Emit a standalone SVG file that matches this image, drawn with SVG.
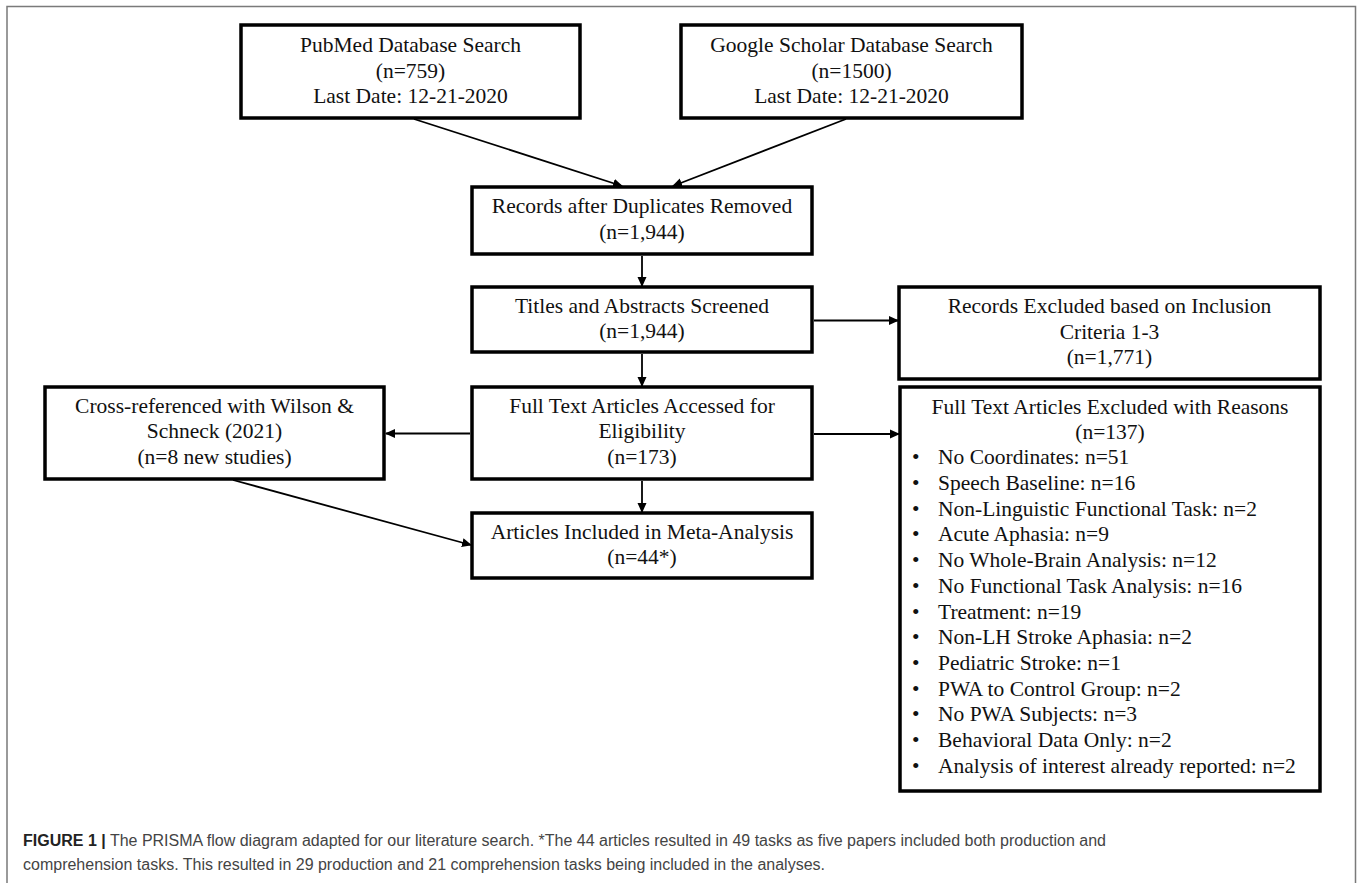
<svg xmlns="http://www.w3.org/2000/svg" width="1358" height="883" viewBox="0 0 1358 883">
<style>
.box{fill:#fff;stroke:#000;stroke-width:3.5}
.t{font-family:"Liberation Serif","Times New Roman",serif;font-size:21.5px;fill:#111}
.c{text-anchor:middle}
.ln{stroke:#000;stroke-width:1.8;fill:none}
.cap{font-family:"Liberation Sans",Arial,sans-serif;font-size:16px;fill:#444}
.capb{font-weight:bold;fill:#222}
</style>
<defs>
<marker id="ah" markerWidth="10" markerHeight="10" refX="9" refY="5" orient="auto" markerUnits="userSpaceOnUse">
<path d="M0,0.5 L10,5 L0,9.5 Z" fill="#000"/>
</marker>
</defs>
<rect width="1358" height="883" fill="#fff"/>
<path d="M7,883 V6.5 H1355.5 V883" fill="none" stroke="#7a7a7a" stroke-width="1.5"/>

<g id="pubmed">
<rect class="box" x="241" y="25" width="339" height="93"/>
<text class="t c" x="410.5" y="52">PubMed Database Search</text>
<text class="t c" x="410.5" y="78">(n=759)</text>
<text class="t c" x="410.5" y="103">Last Date: 12-21-2020</text>
</g>
<g id="google">
<rect class="box" x="681" y="25" width="341" height="93"/>
<text class="t c" x="851.5" y="52">Google Scholar Database Search</text>
<text class="t c" x="851.5" y="78">(n=1500)</text>
<text class="t c" x="851.5" y="103">Last Date: 12-21-2020</text>
</g>
<g id="duplicates">
<rect class="box" x="472" y="187" width="340" height="67"/>
<text class="t c" x="642" y="213">Records after Duplicates Removed</text>
<text class="t c" x="642" y="239">(n=1,944)</text>
</g>
<g id="screened">
<rect class="box" x="472" y="287" width="340" height="65"/>
<text class="t c" x="642" y="313">Titles and Abstracts Screened</text>
<text class="t c" x="642" y="338">(n=1,944)</text>
</g>
<g id="fulltext">
<rect class="box" x="472" y="387" width="340" height="92"/>
<text class="t c" x="642" y="413">Full Text Articles Accessed for</text>
<text class="t c" x="642" y="438">Eligibility</text>
<text class="t c" x="642" y="464">(n=173)</text>
</g>
<g id="included">
<rect class="box" x="472" y="513" width="340" height="65"/>
<text class="t c" x="642" y="539">Articles Included in Meta-Analysis</text>
<text class="t c" x="642" y="564">(n=44*)</text>
</g>
<g id="crossref">
<rect class="box" x="45" y="387" width="339" height="92"/>
<text class="t c" x="214.5" y="413">Cross-referenced with Wilson &amp;</text>
<text class="t c" x="214.5" y="438">Schneck (2021)</text>
<text class="t c" x="214.5" y="464">(n=8 new studies)</text>
</g>
<g id="excluded1">
<rect class="box" x="899" y="287" width="421" height="92"/>
<text class="t c" x="1109.5" y="313">Records Excluded based on Inclusion</text>
<text class="t c" x="1109.5" y="339">Criteria 1-3</text>
<text class="t c" x="1109.5" y="364">(n=1,771)</text>
</g>
<g id="excluded2">
<rect class="box" x="900" y="387" width="420" height="404"/>
<text class="t c" x="1110" y="414">Full Text Articles Excluded with Reasons</text>
<text class="t c" x="1110" y="439">(n=137)</text>
<g class="t">
<text x="912" y="464.3">•</text><text x="938" y="464.3">No Coordinates: n=51</text>
<text x="912" y="490">•</text><text x="938" y="490">Speech Baseline: n=16</text>
<text x="912" y="515.7">•</text><text x="938" y="515.7">Non-Linguistic Functional Task: n=2</text>
<text x="912" y="541.4">•</text><text x="938" y="541.4">Acute Aphasia: n=9</text>
<text x="912" y="567.1">•</text><text x="938" y="567.1">No Whole-Brain Analysis: n=12</text>
<text x="912" y="592.8">•</text><text x="938" y="592.8">No Functional Task Analysis: n=16</text>
<text x="912" y="618.5">•</text><text x="938" y="618.5">Treatment: n=19</text>
<text x="912" y="644.2">•</text><text x="938" y="644.2">Non-LH Stroke Aphasia: n=2</text>
<text x="912" y="669.9">•</text><text x="938" y="669.9">Pediatric Stroke: n=1</text>
<text x="912" y="695.6">•</text><text x="938" y="695.6">PWA to Control Group: n=2</text>
<text x="912" y="721.3">•</text><text x="938" y="721.3">No PWA Subjects: n=3</text>
<text x="912" y="747">•</text><text x="938" y="747">Behavioral Data Only: n=2</text>
<text x="912" y="772.7">•</text><text x="938" y="772.7">Analysis of interest already reported: n=2</text>
</g>
</g>

<g id="connectors">
<line class="ln" x1="414" y1="119" x2="622" y2="186" marker-end="url(#ah)"/>
<line class="ln" x1="846" y1="119" x2="673" y2="186" marker-end="url(#ah)"/>
<line class="ln" x1="642" y1="256" x2="642" y2="286" marker-end="url(#ah)"/>
<line class="ln" x1="642" y1="354" x2="642" y2="386" marker-end="url(#ah)"/>
<line class="ln" x1="642" y1="481" x2="642" y2="512" marker-end="url(#ah)"/>
<line class="ln" x1="814" y1="320.5" x2="898" y2="320.5" marker-end="url(#ah)"/>
<line class="ln" x1="814" y1="434" x2="899" y2="434" marker-end="url(#ah)"/>
<line class="ln" x1="470" y1="433.5" x2="386" y2="433.5" marker-end="url(#ah)"/>
<line class="ln" x1="233" y1="480" x2="471" y2="545" marker-end="url(#ah)"/>
</g>

<g id="caption">
<text class="cap" x="23" y="846"><tspan class="capb">FIGURE 1 |</tspan> The PRISMA flow diagram adapted for our literature search. *The 44 articles resulted in 49 tasks as five papers included both production and</text>
<text class="cap" x="23" y="870">comprehension tasks. This resulted in 29 production and 21 comprehension tasks being included in the analyses.</text>
</g>
</svg>
